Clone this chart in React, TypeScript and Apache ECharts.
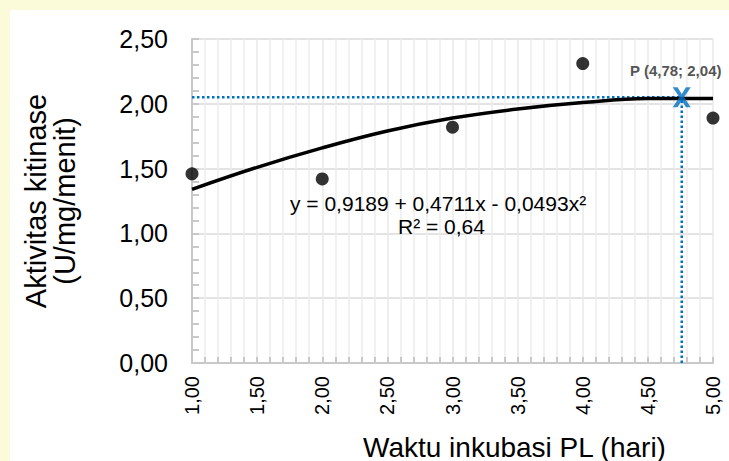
import React, { useEffect, useRef } from "react";
import * as echarts from "echarts";

const incubationDays = [1, 2, 3, 4, 5];
const chitinaseActivity = [1.46, 1.42, 1.82, 2.31, 1.89];

// Polynomial trendline as drawn in the picture
const trendDays = [1, 1.5, 2, 2.5, 3, 3.5, 4, 4.5, 5];
const trendActivity = [1.34, 1.51, 1.66, 1.79, 1.89, 1.96, 2.01, 2.04, 2.04];

// Optimum point marker
const optimumDay = 4.76;
const optimumActivity = 2.05;

const xAxisMin = 1;
const xAxisMax = 5;
const xAxisStep = 0.5;
const yAxisMin = 0;
const yAxisMax = 2.5;
const yAxisStep = 0.5;

const equationText = "y = 0,9189 + 0,4711x - 0,0493x²";
const r2Text = "R² = 0,64";
const optimumLabel = "P (4,78; 2,04)";
const xTitle = "Waktu inkubasi PL (hari)";
const yTitle = "Aktivitas kitinase\n(U/mg/menit)";

const FONT = "'Liberation Sans', Arial, Helvetica, sans-serif";
const BLUE = "#0070C0";

const fmt = (v: number) => v.toFixed(2).replace(".", ",");

const X_PATH =
  "path://M0,0 L3.2,0 L6,4.4 L8.8,0 L12,0 L7.6,6.5 L12,13 L8.8,13 L6,8.6 L3.2,13 L0,13 L4.4,6.5 Z";

export default function App() {
  const ref = useRef<HTMLDivElement>(null);

  useEffect(() => {
    if (!ref.current) return;
    const chart = echarts.init(ref.current, undefined, { renderer: "svg" });
    chart.setOption({
      animation: false,
      backgroundColor: "transparent",
      grid: {
        left: 192,
        right: 16,
        top: 39,
        bottom: 98,
        containLabel: false,
        outerBoundsMode: "none",
      },
      xAxis: {
        type: "value",
        min: xAxisMin,
        max: xAxisMax,
        interval: xAxisStep,
        axisLine: { show: true, onZero: false, lineStyle: { color: "#C8C8C8", width: 2 } },
        axisTick: { show: true, inside: true, length: 6, lineStyle: { color: "#C8C8C8", width: 2 } },
        minorTick: { show: true, splitNumber: 5, length: 6, lineStyle: { color: "#C8C8C8", width: 2 } },
        splitLine: { show: true, lineStyle: { color: "#E8E8E8", width: 1.5 } },
        minorSplitLine: { show: true, lineStyle: { color: "#EDEDED", width: 1.5 } },
        axisLabel: {
          rotate: 90,
          margin: 13,
          fontSize: 20,
          fontFamily: FONT,
          color: "#000",
          formatter: (v: number) => fmt(v),
        },
      },
      yAxis: {
        type: "value",
        min: yAxisMin,
        max: yAxisMax,
        interval: yAxisStep,
        axisLine: { show: true, onZero: false, lineStyle: { color: "#C8C8C8", width: 2 } },
        axisTick: { show: true, inside: true, length: 7, lineStyle: { color: "#C8C8C8", width: 2 } },
        minorTick: { show: true, splitNumber: 5, length: 7, lineStyle: { color: "#C8C8C8", width: 2 } },
        splitLine: { show: true, lineStyle: { color: "#E3E3E3", width: 2 } },
        axisLabel: {
          margin: 24,
          fontSize: 25,
          fontFamily: FONT,
          color: "#000",
          formatter: (v: number) => fmt(v),
        },
        name: yTitle,
        nameLocation: "middle",
        nameRotate: 90,
        nameGap: 113,
        nameTextStyle: { fontSize: 29, fontFamily: FONT, color: "#000", lineHeight: 29 },
      },
      series: [
        {
          type: "line",
          data: [
            [xAxisMin, optimumActivity],
            [optimumDay, optimumActivity],
          ],
          showSymbol: false,
          symbol: "none",
          lineStyle: { color: BLUE, width: 2.5, type: [2.5, 2.5] },
          z: 3,
          silent: true,
        },
        {
          type: "line",
          data: [
            [optimumDay, yAxisMin],
            [optimumDay, optimumActivity],
          ],
          showSymbol: false,
          symbol: "none",
          lineStyle: { color: BLUE, width: 2.5, type: [2.5, 2.5] },
          z: 3,
          silent: true,
        },
        {
          type: "line",
          data: trendDays.map((d, i) => [d, trendActivity[i]]),
          smooth: 0.4,
          showSymbol: false,
          symbol: "none",
          lineStyle: { color: "#000", width: 3.5 },
          z: 4,
          silent: true,
        },
        {
          type: "scatter",
          data: incubationDays.map((d, i) => [d, chitinaseActivity[i]]),
          symbol: "circle",
          symbolSize: 13,
          itemStyle: { color: "#000" },
          z: 5,
          clip: false,
        },
        {
          type: "scatter",
          data: [[optimumDay, optimumActivity]],
          symbol: X_PATH,
          symbolSize: [18, 20],
          itemStyle: { color: BLUE },
          z: 6,
          label: {
            show: true,
            position: "top",
            distance: 9,
            formatter: optimumLabel,
            fontSize: 15,
            fontWeight: "bold",
            fontFamily: FONT,
            color: "#262626",
            offset: [-6, 0],
          },
        },
      ],
      graphic: [
        {
          type: "text",
          left: 290,
          top: 193,
          z: 100,
          style: {
            text: equationText,
            font: `21px ${FONT}`,
            fill: "#000",
          },
        },
        {
          type: "text",
          left: 398,
          top: 216,
          z: 100,
          style: {
            text: r2Text,
            font: `21px ${FONT}`,
            fill: "#000",
          },
        },
        {
          type: "text",
          left: 363,
          top: 433,
          z: 100,
          style: {
            text: xTitle,
            font: `28px ${FONT}`,
            fill: "#000",
          },
        },
      ],
    });
    return () => chart.dispose();
  }, []);

  return (
    <div
      style={{
        position: "fixed",
        left: 0,
        top: 0,
        width: 729,
        height: 461,
        background: "#FCFBD9",
        overflow: "hidden",
      }}
    >
      <div
        style={{
          position: "absolute",
          left: 10,
          top: 10,
          width: 719,
          height: 451,
          background: "#FFFFFF",
        }}
      />
      <div ref={ref} style={{ position: "absolute", left: 0, top: 0, width: 729, height: 461 }} />
    </div>
  );
}
